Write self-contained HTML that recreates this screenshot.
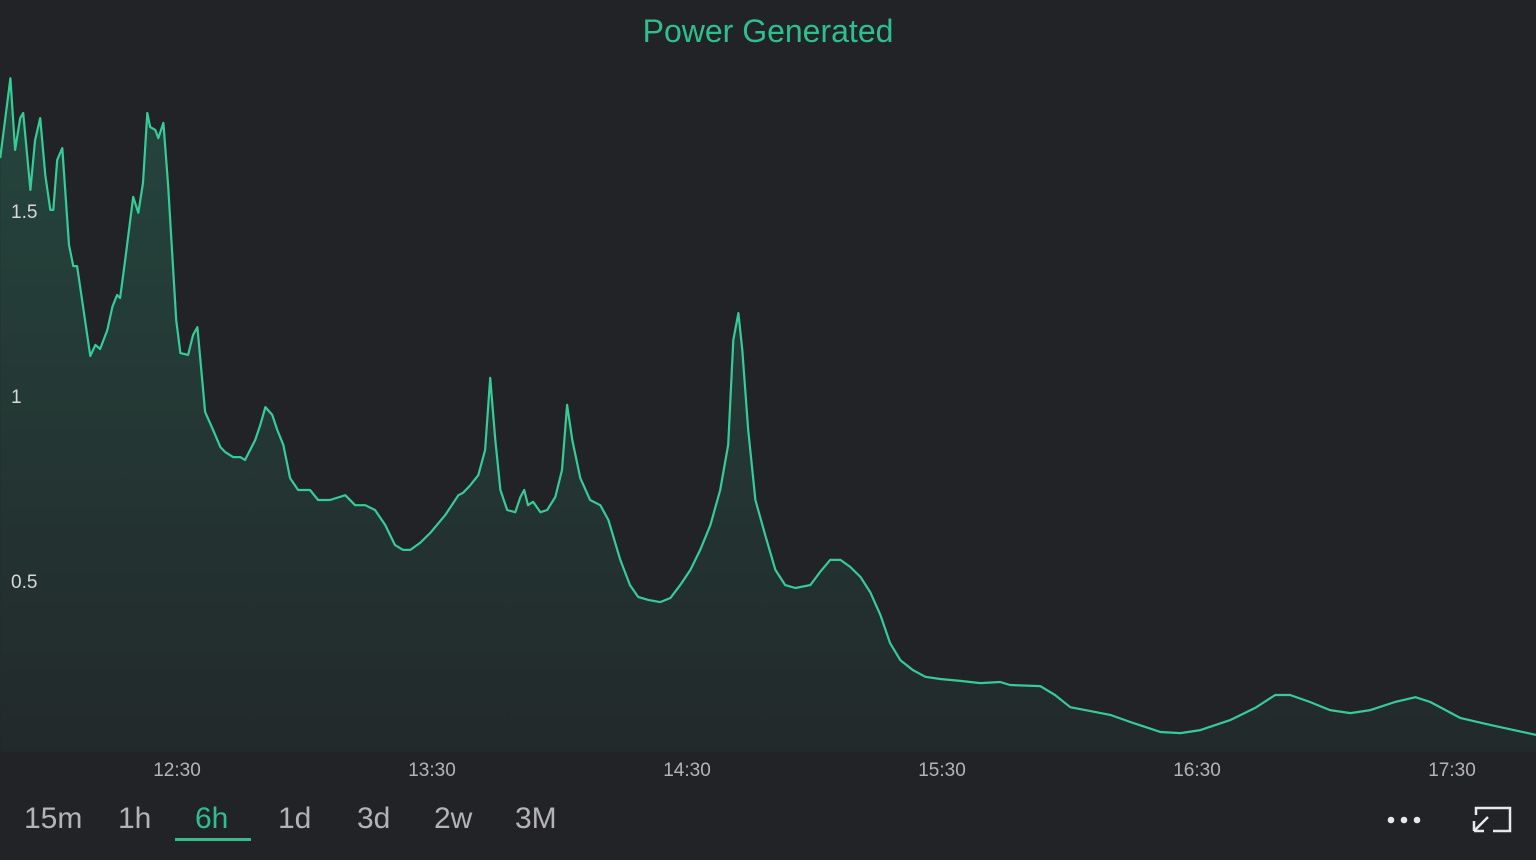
<!DOCTYPE html>
<html><head><meta charset="utf-8"><style>
html,body{margin:0;padding:0;background:#222327;width:1536px;height:860px;overflow:hidden;font-family:"Liberation Sans","DejaVu Sans",sans-serif;}
#wrap{position:relative;width:1536px;height:860px;background:#222327;}
.title{position:absolute;top:13px;left:0;width:1536px;text-align:center;color:#2fbf8c;font-size:32px;}
.btn{position:absolute;top:802px;color:#b4b4b8;font-size:30px;}
</style></head><body>
<div id="wrap">
<div class="title">Power Generated</div>
<svg id="chart" width="1536" height="860" style="position:absolute;left:0;top:0">
<defs><linearGradient id="g" x1="0" y1="0" x2="0" y2="1">
<stop offset="0" stop-color="#2fbf8c" stop-opacity="0.22"/><stop offset="1" stop-color="#2fbf8c" stop-opacity="0.04"/></linearGradient></defs>
</svg>
<div class="btn" style="left:24px">15m</div>
<div class="btn" style="left:118px">1h</div>
<div class="btn" style="left:195px;color:#2fbf8c">6h</div>
<div style="position:absolute;left:175px;top:838px;width:76px;height:3px;background:#2fbf8c"></div>
<div class="btn" style="left:278px">1d</div>
<div class="btn" style="left:357px">3d</div>
<div class="btn" style="left:434px">2w</div>
<div class="btn" style="left:515px">3M</div>
<svg style="position:absolute;left:1380px;top:805px" width="140" height="32">
<g fill="#e8e8ea"><circle cx="11" cy="15" r="3.3"/><circle cx="24" cy="15" r="3.3"/><circle cx="37" cy="15" r="3.3"/></g>
<g stroke="#e8e8ea" stroke-width="2.5" fill="none">
<path d="M96 10 V3 H130 V26 H113"/><path d="M94 26 L108 12 M94 26 H104 M94 26 V16"/></g>
</svg>
</div>
<script>
const times=[-11.6,-9.2,-8.1,-6.9,-6.2,-4.5,-3.4,-2.2,-1.0,0.2,0.9,1.8,3.0,4.6,5.6,6.5,9.6,10.8,11.9,13.6,14.8,15.9,16.6,17.8,19.7,20.9,22.0,23.0,23.7,24.9,25.6,26.8,27.9,29.8,30.8,32.6,33.8,34.8,36.6,38.5,40.2,41.3,43.2,44.9,46.0,48.4,49.6,50.8,52.4,53.6,55.0,56.6,58.5,61.3,63.2,66.0,69.6,71.9,74.3,76.6,79.0,81.3,83.2,84.9,87.2,89.6,93.1,96.2,97.3,99.0,100.9,102.5,103.7,104.9,106.1,107.7,109.6,110.8,111.7,112.6,113.8,115.5,117.1,119.0,120.6,121.8,123.0,124.9,127.2,129.6,131.5,134.3,136.6,138.5,140.9,143.7,146.1,148.4,150.8,153.1,155.5,157.8,159.7,160.9,162.1,163.0,164.4,166.1,168.4,170.8,173.1,175.5,179.0,181.3,183.7,186.1,188.4,190.8,193.1,195.5,197.8,200.2,203.2,206.1,209.6,214.3,219.0,223.7,226.0,233.1,236.6,240.2,243.7,249.6,254.3,261.4,266.1,270.8,277.8,283.7,288.4,291.9,296.6,301.3,306.1,310.8,316.6,321.4,324.9,331.9,339.0,349.8];
const values=[1.643,1.859,1.665,1.751,1.765,1.557,1.692,1.751,1.597,1.503,1.503,1.638,1.670,1.408,1.351,1.351,1.108,1.138,1.127,1.178,1.241,1.273,1.265,1.368,1.538,1.495,1.576,1.765,1.727,1.719,1.697,1.738,1.570,1.205,1.116,1.111,1.165,1.186,0.957,0.908,0.862,0.849,0.835,0.835,0.827,0.881,0.922,0.970,0.949,0.908,0.868,0.778,0.746,0.746,0.719,0.719,0.732,0.705,0.705,0.692,0.651,0.597,0.584,0.584,0.603,0.630,0.678,0.732,0.738,0.759,0.786,0.854,1.049,0.881,0.746,0.692,0.686,0.727,0.746,0.705,0.714,0.686,0.692,0.727,0.800,0.976,0.881,0.778,0.719,0.705,0.665,0.557,0.489,0.457,0.449,0.443,0.454,0.489,0.530,0.584,0.651,0.746,0.868,1.151,1.224,1.124,0.908,0.719,0.624,0.530,0.489,0.481,0.489,0.524,0.557,0.557,0.538,0.511,0.470,0.408,0.332,0.286,0.259,0.241,0.235,0.230,0.224,0.227,0.219,0.216,0.192,0.159,0.151,0.138,0.119,0.092,0.089,0.097,0.124,0.157,0.192,0.192,0.173,0.151,0.143,0.151,0.173,0.186,0.173,0.130,0.111,0.084];
const xTicks=[30,90,150,210,270,330];
const xTickLabels=["12:30","13:30","14:30","15:30","16:30","17:30"];
const yTicks=[0.5,1,1.5];
const yTickLabels=["0.5","1","1.5"];
const X=t=>177+(t-30)*255/60;
const Y=v=>766-v*370;
const svg=document.getElementById('chart');
const NS='http://www.w3.org/2000/svg';
let d='';
times.forEach((t,i)=>{d+=(i?'L':'M')+X(t).toFixed(1)+' '+Y(values[i]).toFixed(1);});
const area=document.createElementNS(NS,'path');
area.setAttribute('d',d+'L'+X(times[times.length-1])+' 752L'+X(times[0])+' 752Z');
area.setAttribute('fill','url(#g)');


svg.appendChild(area);
const line=document.createElementNS(NS,'path');
line.setAttribute('d',d);
line.setAttribute('fill','none');
line.setAttribute('stroke','#36cc96');
line.setAttribute('stroke-width','2.2');
line.setAttribute('stroke-linejoin','round');


svg.appendChild(line);
yTicks.forEach((v,i)=>{const t=document.createElementNS(NS,'text');
t.setAttribute('x',11);t.setAttribute('y',Y(v)+7);t.setAttribute('fill','#d8d8da');t.setAttribute('font-size','19');
t.setAttribute('font-family','Liberation Sans, sans-serif');t.textContent=yTickLabels[i];


svg.appendChild(t);});
xTicks.forEach((v,i)=>{const t=document.createElementNS(NS,'text');
t.setAttribute('x',X(v));t.setAttribute('y',776);t.setAttribute('fill','#b4b4b8');t.setAttribute('font-size','19');
t.setAttribute('text-anchor','middle');t.setAttribute('font-family','Liberation Sans, sans-serif');t.textContent=xTickLabels[i];


svg.appendChild(t);});
</script>
</body></html>
